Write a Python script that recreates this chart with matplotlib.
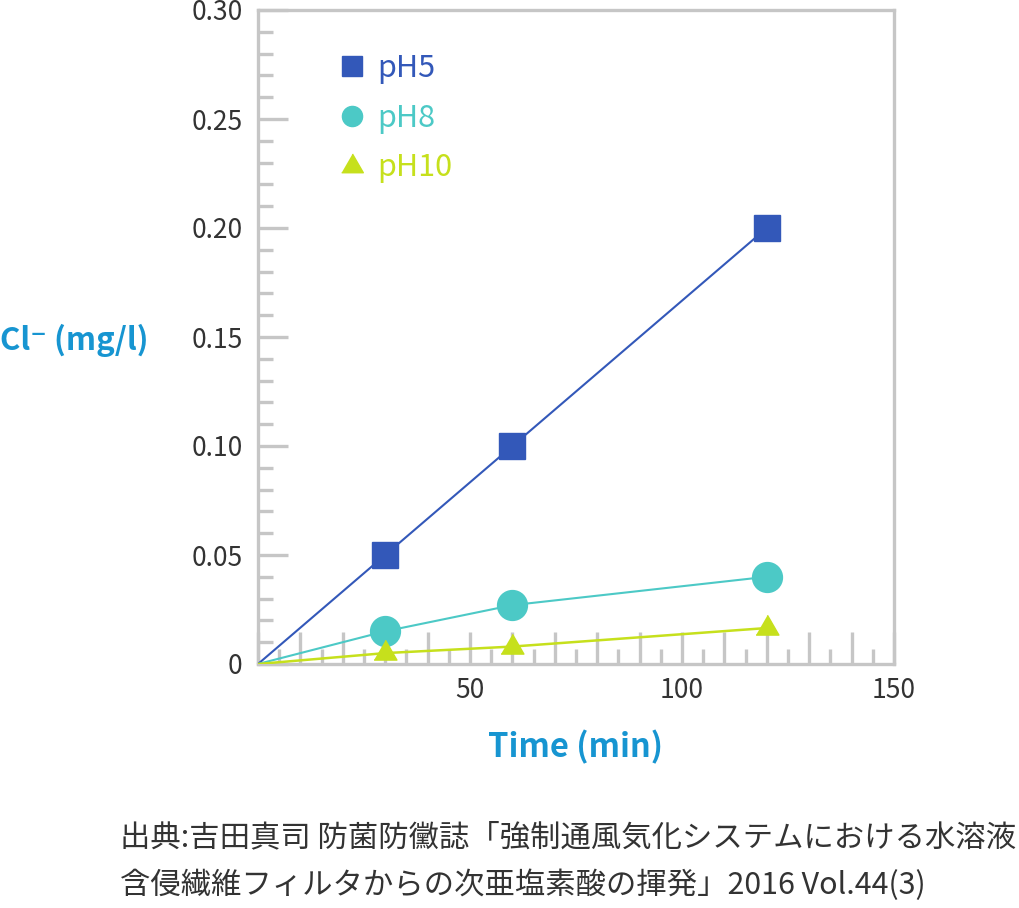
import matplotlib
matplotlib.use("Agg")
import matplotlib.pyplot as plt
from matplotlib.lines import Line2D
from matplotlib.ticker import FixedLocator, FixedFormatter, MultipleLocator

plt.rcParams['font.family'] = ['Noto Sans CJK JP', 'DejaVu Sans']

# data
time_min = [0, 30, 60, 120]
ph5 = [0, 0.050, 0.100, 0.200]
ph8 = [0, 0.015, 0.027, 0.040]
ph10 = [0, 0.005, 0.008, 0.0165]
series_names = ['pH5', 'pH8', 'pH10']
x_major = [0, 10, 20, 30, 40, 50, 60, 70, 80, 90, 100, 110, 120, 130, 140, 150]
x_labels = ['', '', '', '', '', '50', '', '', '', '', '100', '', '', '', '', '150']
y_major = [0, 0.05, 0.10, 0.15, 0.20, 0.25, 0.30]
y_labels = ['0', '0.05', '0.10', '0.15', '0.20', '0.25', '0.30']
caption = ["出典:吉田真司 防菌防黴誌「強制通風気化システムにおける水溶液",
           "含侵繊維フィルタからの次亜塩素酸の揮発」2016 Vol.44(3)"]

c_blue = '#3358b9'
c_teal = '#4cc9c6'
c_lime = '#c6e01c'
c_label = '#1795d1'
c_grid = '#c6c6c6'
c_text = '#333333'

tri = [(-1, -0.577), (1, -0.577), (0, 1.155)]

fig = plt.figure(figsize=(10.19, 9.08), dpi=100)
ax = fig.add_axes([258 / 1019, 1 - 664 / 908, (894 - 258) / 1019, (664 - 10) / 908])

ax.plot(time_min, ph5, color=c_blue, lw=1.5, marker='s', ms=18.5,
        markevery=[1, 2, 3], zorder=3)
ax.plot(time_min, ph8, color=c_teal, lw=1.5, marker='o', ms=21.5,
        markevery=[1, 2, 3], zorder=4)
ax.plot(time_min, ph10, color=c_lime, lw=1.8, marker=tri, ms=19,
        markevery=[1, 2, 3], zorder=5)

ax.set_xlim(0, 150)
ax.set_ylim(0, 0.30)

for s in ax.spines.values():
    s.set_color(c_grid)
    s.set_linewidth(2.4)

ax.xaxis.set_major_locator(FixedLocator(x_major))
ax.xaxis.set_major_formatter(FixedFormatter(x_labels))
ax.xaxis.set_minor_locator(FixedLocator([5 + 10 * i for i in range(15)]))
ax.yaxis.set_major_locator(FixedLocator(y_major))
ax.yaxis.set_major_formatter(FixedFormatter(y_labels))
ax.yaxis.set_minor_locator(MultipleLocator(0.01))

ax.tick_params(axis='x', which='major', direction='in', length=23, width=2.4,
               color=c_grid, labelsize=19, labelcolor=c_text, pad=9)
ax.tick_params(axis='x', which='minor', direction='in', length=11, width=2.4,
               color=c_grid)
ax.tick_params(axis='y', which='major', direction='in', length=21.5, width=2.4,
               color=c_grid, labelsize=19, labelcolor=c_text, pad=11)
ax.tick_params(axis='y', which='minor', direction='in', length=11, width=2.4,
               color=c_grid)

handles = [
    Line2D([], [], ls='None', marker='s', ms=15, color=c_blue),
    Line2D([], [], ls='None', marker='o', ms=14.5, color=c_teal),
    Line2D([], [], ls='None', marker=tri, ms=18, color=c_lime),
]
ax.legend(handles, series_names, loc='upper left',
          bbox_to_anchor=(334 / 1019, 1 - 53 / 908), bbox_transform=fig.transFigure,
          frameon=False, fontsize=22, labelcolor='markerfacecolor',
          handlelength=1.2, handletextpad=0.22, labelspacing=0.61,
          borderpad=0, borderaxespad=0)

fig.text(0.0, 1 - 340 / 908, 'Cl⁻ (mg/l)', color=c_label, fontsize=22.5,
         fontweight='bold', ha='left', va='center')
fig.text(575 / 1019, 1 - 747 / 908, 'Time (min)', color=c_label, fontsize=23.5,
         fontweight='bold', ha='center', va='center')

fig.text(120 / 1019, 1 - 838 / 908, caption[0], color=c_text, fontsize=21.85,
         ha='left', va='center')
fig.text(120 / 1019, 1 - 885 / 908, caption[1], color=c_text, fontsize=21.85,
         ha='left', va='center')

fig.savefig('out.png', dpi=100)
